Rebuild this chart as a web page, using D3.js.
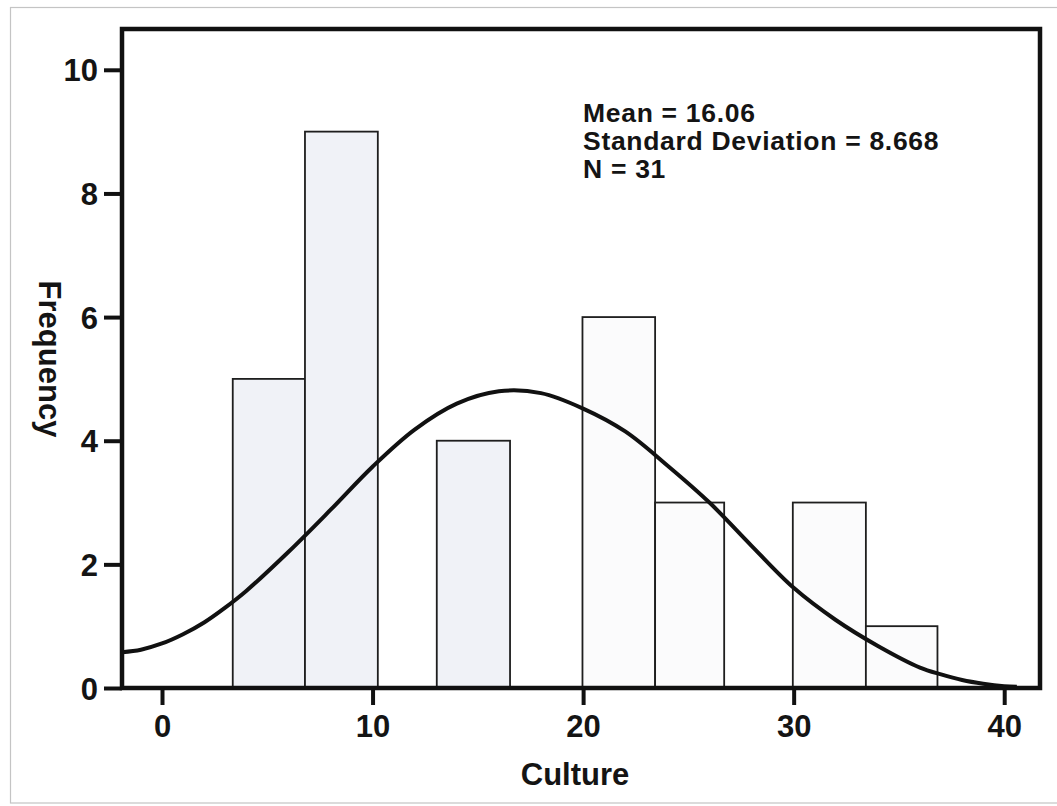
<!DOCTYPE html>
<html>
<head>
<meta charset="utf-8">
<script src="https://cdn.jsdelivr.net/npm/d3@7"></script>
<style>
  html, body { margin: 0; padding: 0; background: #ffffff; }
  svg { display: block; }
  text { font-family: "Liberation Sans", Arial, Helvetica, sans-serif; font-weight: bold; fill: #141414; }
</style>
</head>
<body>
<svg id="chart" width="1057" height="806"></svg>
<script>
// ---- data ----
const binStart = [3.36, 6.79, 13.05, 19.97, 23.42, 29.96, 33.43];
const binEnd   = [6.79, 10.25, 16.53, 23.42, 26.70, 33.43, 36.83];
const counts   = [5, 9, 4, 6, 3, 3, 1];
const xTicks   = [0, 10, 20, 30, 40];
const yTicks   = [0, 2, 4, 6, 8, 10];
// normal curve as drawn
const curveX = [-1.9, -1, 0, 1, 2, 3, 4, 6, 8, 10, 12, 14, 16, 18, 20, 22, 24, 26, 28, 30, 32, 34, 36, 37, 38, 39, 40, 40.6];
const curveY = [0.58, 0.62, 0.72, 0.87, 1.06, 1.30, 1.57, 2.20, 2.88, 3.58, 4.18, 4.60, 4.80, 4.77, 4.52, 4.15, 3.60, 3.00, 2.30, 1.62, 1.10, 0.68, 0.33, 0.22, 0.13, 0.07, 0.03, 0.02];
const statsLines = ["Mean = 16.06", "Standard Deviation = 8.668", "N = 31"];
const xTitle = "Culture";
const yTitle = "Frequency";

// ---- layout ----
const svg = d3.select("#chart");
const L = 122, T = 29, R = 1040, B = 688;

const x = d3.scaleLinear().domain([-1.9, 41.7]).range([L, R]);
const y = d3.scaleLinear().domain([0, 10.66]).range([B, T]);

// outer light border
svg.append("rect").attr("x", 10.5).attr("y", 7.5).attr("width", 1060).attr("height", 795.5)
  .attr("fill", "none").attr("stroke", "#c4c4c4").attr("stroke-width", 1.2);

// clip
svg.append("clipPath").attr("id", "plotclip").append("rect")
  .attr("x", L).attr("y", T).attr("width", R - L).attr("height", B - T);

const bars = binStart.map((s, i) => ({ x0: s, x1: binEnd[i], n: counts[i], i }));

svg.append("g").selectAll("rect").data(bars).join("rect")
  .attr("x", d => x(d.x0))
  .attr("y", d => y(d.n))
  .attr("width", d => x(d.x1) - x(d.x0))
  .attr("height", d => y(0) - y(d.n))
  .attr("fill", d => d.i < 3 ? "#f0f2f7" : "#fbfbfc")
  .attr("stroke", "#1e1e1e")
  .attr("stroke-width", 1.8);

// normal curve
const pts = curveX.map((v, i) => [v, curveY[i]]);
svg.append("path").datum(pts)
  .attr("clip-path", "url(#plotclip)")
  .attr("d", d3.line().x(d => x(d[0])).y(d => y(d[1])).curve(d3.curveCatmullRom.alpha(0.5)))
  .attr("fill", "none").attr("stroke", "#111").attr("stroke-width", 4);

// frame
svg.append("rect").attr("x", L).attr("y", T).attr("width", R - L).attr("height", B - T)
  .attr("fill", "none").attr("stroke", "#111").attr("stroke-width", 4.5);

// y axis
const yAxis = d3.axisLeft(y).tickValues(yTicks).tickSize(18).tickPadding(6).tickFormat(d3.format("d"));
const gy = svg.append("g").attr("transform", `translate(${L},0)`).call(yAxis);
gy.select(".domain").remove();
gy.selectAll(".tick line").attr("stroke", "#111").attr("stroke-width", 4);
gy.selectAll(".tick text").attr("font-size", 31).attr("fill", "#141414").attr("dy", "0.36em")
  .style("font-family", "'Liberation Sans', Arial, sans-serif").style("font-weight", "bold");

// x axis
const xAxis = d3.axisBottom(x).tickValues(xTicks).tickSize(17).tickPadding(10).tickFormat(d3.format("d"));
const gx = svg.append("g").attr("transform", `translate(0,${B})`).call(xAxis);
gx.select(".domain").remove();
gx.selectAll(".tick line").attr("stroke", "#111").attr("stroke-width", 4);
gx.selectAll(".tick text").attr("font-size", 31).attr("fill", "#141414").attr("dy", "0.71em")
  .style("font-family", "'Liberation Sans', Arial, sans-serif").style("font-weight", "bold");

// axis titles
svg.append("text").attr("x", 575).attr("y", 785).attr("text-anchor", "middle")
  .attr("font-size", 31).text(xTitle);
svg.append("text").attr("transform", "translate(39,359) rotate(90)").attr("text-anchor", "middle")
  .attr("font-size", 31).text(yTitle);

// stats text
svg.append("g").selectAll("text").data(statsLines).join("text")
  .attr("x", 583).attr("y", (d, i) => 122 + i * 28)
  .attr("font-size", 26.5).attr("letter-spacing", 0.7).text(d => d);
</script>
</body>
</html>
